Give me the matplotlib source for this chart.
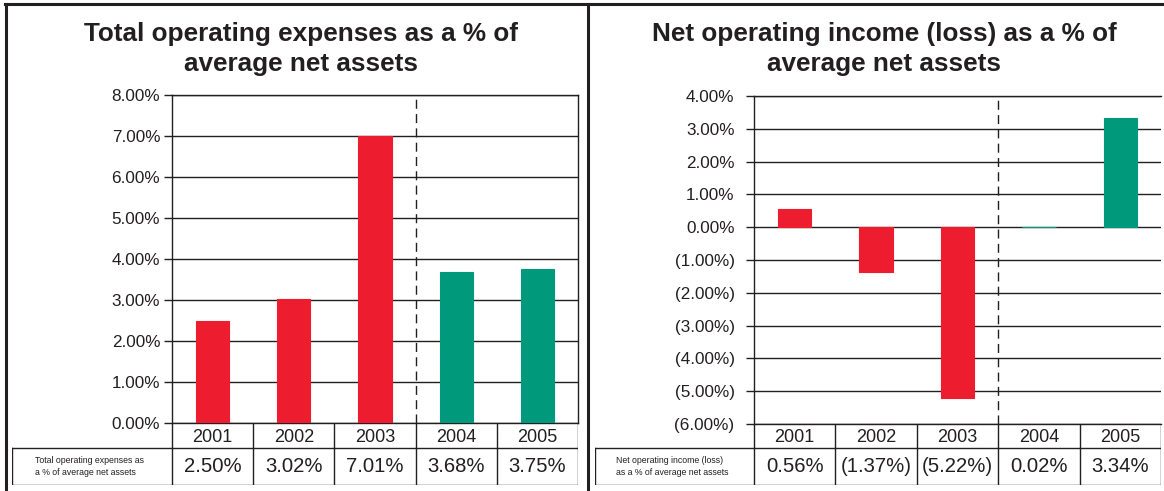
import numpy as np
import matplotlib
matplotlib.use('Agg')
from matplotlib import pyplot as plt
from matplotlib.lines import Line2D
from matplotlib.ticker import FuncFormatter


years = ['2001', '2002', '2003', '2004', '2005']

expense_pct = [2.50, 3.02, 7.01, 3.68, 3.75]
expense_labels = ['2.50%', '3.02%', '7.01%', '3.68%', '3.75%']

income_pct = [0.56, -1.37, -5.22, 0.02, 3.34]
income_labels = ['0.56%', '(1.37%)', '(5.22%)', '0.02%', '3.34%']

bar_colors = ['#ED1C2E', '#ED1C2E', '#ED1C2E', '#00997B', '#00997B']

W, H = 1164, 491
INK = '#231F20'

plt.rcParams['font.family'] = ['Liberation Sans', 'DejaVu Sans']

fig = plt.figure(figsize=(W / 100, H / 100), dpi=100)


def px_axes(x0, y0, x1, y1):
    # axes placed by pixel box (top-left origin)
    return fig.add_axes([x0 / W, 1 - y1 / H, (x1 - x0) / W, (y1 - y0) / H])


def pct_fmt(v, pos):
    if v < -1e-9:
        return '(%.2f%%)' % abs(v)
    return '%.2f%%' % v


def plot_panel(box, vals, ylim, yticks, tick_pad, right_spine):
    ax = px_axes(*box)
    n = len(vals)
    x = np.arange(n) + 0.5
    ax.bar(x, vals, width=0.41, color=bar_colors, edgecolor=bar_colors,
           linewidth=0.8, zorder=3)
    ax.set_xlim(0, n)
    ax.set_ylim(*ylim)
    ax.set_yticks(yticks)
    ax.yaxis.set_major_formatter(FuncFormatter(pct_fmt))
    ax.set_xticks([])
    ax.tick_params(axis='y', direction='out', length=5.5, width=1,
                   color=INK, labelsize=12.3, pad=tick_pad, labelcolor=INK)
    for t in yticks:
        ax.axhline(t, color=INK, lw=1.0, zorder=2)
    ax.axvline(3, color=INK, lw=1.0, dashes=(6.5, 3.8), zorder=2)
    for s in ax.spines.values():
        s.set_color(INK)
        s.set_linewidth(1.0)
    ax.spines['right'].set_visible(right_spine)
    return ax


def plot_table(ax_box, label_left, row_top, row_mid, row_bot, values, label):
    x0, _, x1, _ = ax_box
    n = len(values)
    colw = (x1 - x0) / n
    lab_w = (x0 - label_left) / colw
    tb = px_axes(label_left, row_top, x1, row_bot)
    tb.set_xlim(-lab_w, n)
    tb.set_ylim(row_bot - row_top, 0)
    tb.axis('off')
    mid = row_mid - row_top
    bot = row_bot - row_top
    kw = dict(color=INK, lw=1.0, solid_capstyle='projecting')
    # year row
    for i in range(n + 1):
        tb.plot([i, i], [0, mid], **kw)
        if i < n:
            tb.text(i + 0.5, mid / 2 + 1.5, years[i], ha='center', va='center',
                    fontsize=13, color=INK)
    # value row
    tb.plot([-lab_w, n], [mid, mid], **kw)
    tb.plot([-lab_w, n], [bot, bot], **kw)
    for i in range(-1, n + 1):
        xx = -lab_w if i == -1 else i
        tb.plot([xx, xx], [mid, bot], **kw)
    for i in range(n):
        tb.text(i + 0.5, (mid + bot) / 2, values[i], ha='center', va='center',
                fontsize=14.6, color=INK)
    tb.text(-lab_w / 2 - 0.03, (mid + bot) / 2, label, ha='center', va='center',
            multialignment='left', fontsize=6.3, color=INK, linespacing=1.35)


# left panel
left_box = (172, 95, 578, 423)
plot_panel(left_box, expense_pct, (0, 8), np.arange(0, 8.01, 1.0), 3, True)
plot_table(left_box, 12, 423, 448, 485, expense_labels,
           'Total operating expenses as\na % of average net assets')
fig.text(301 / W, 1 - 49 / H, 'Total operating expenses as a % of\naverage net assets',
         ha='center', va='center', fontsize=18.8, fontweight='bold',
         color=INK, linespacing=1.33)

# right panel
right_box = (754, 96, 1161, 424)
plot_panel(right_box, income_pct, (-6, 4), np.arange(-6, 4.01, 1.0), 8.5, False)
plot_table(right_box, 595, 424, 448, 485, income_labels,
           'Net operating income (loss)\nas a % of average net assets')
fig.text(884 / W, 1 - 49 / H, 'Net operating income (loss) as a % of\naverage net assets',
         ha='center', va='center', fontsize=18.8, fontweight='bold',
         color=INK, linespacing=1.33)

# outer frame
frame_kw = dict(color=INK, lw=2.2, transform=fig.transFigure)
fig.add_artist(Line2D([5 / W, 1], [1 - 4 / H, 1 - 4 / H], **frame_kw))
fig.add_artist(Line2D([6 / W, 6 / W], [0, 1 - 4 / H], **frame_kw))
fig.add_artist(Line2D([588 / W, 588 / W], [0, 1 - 4 / H], **frame_kw))

fig.savefig('out.png', dpi=100)
